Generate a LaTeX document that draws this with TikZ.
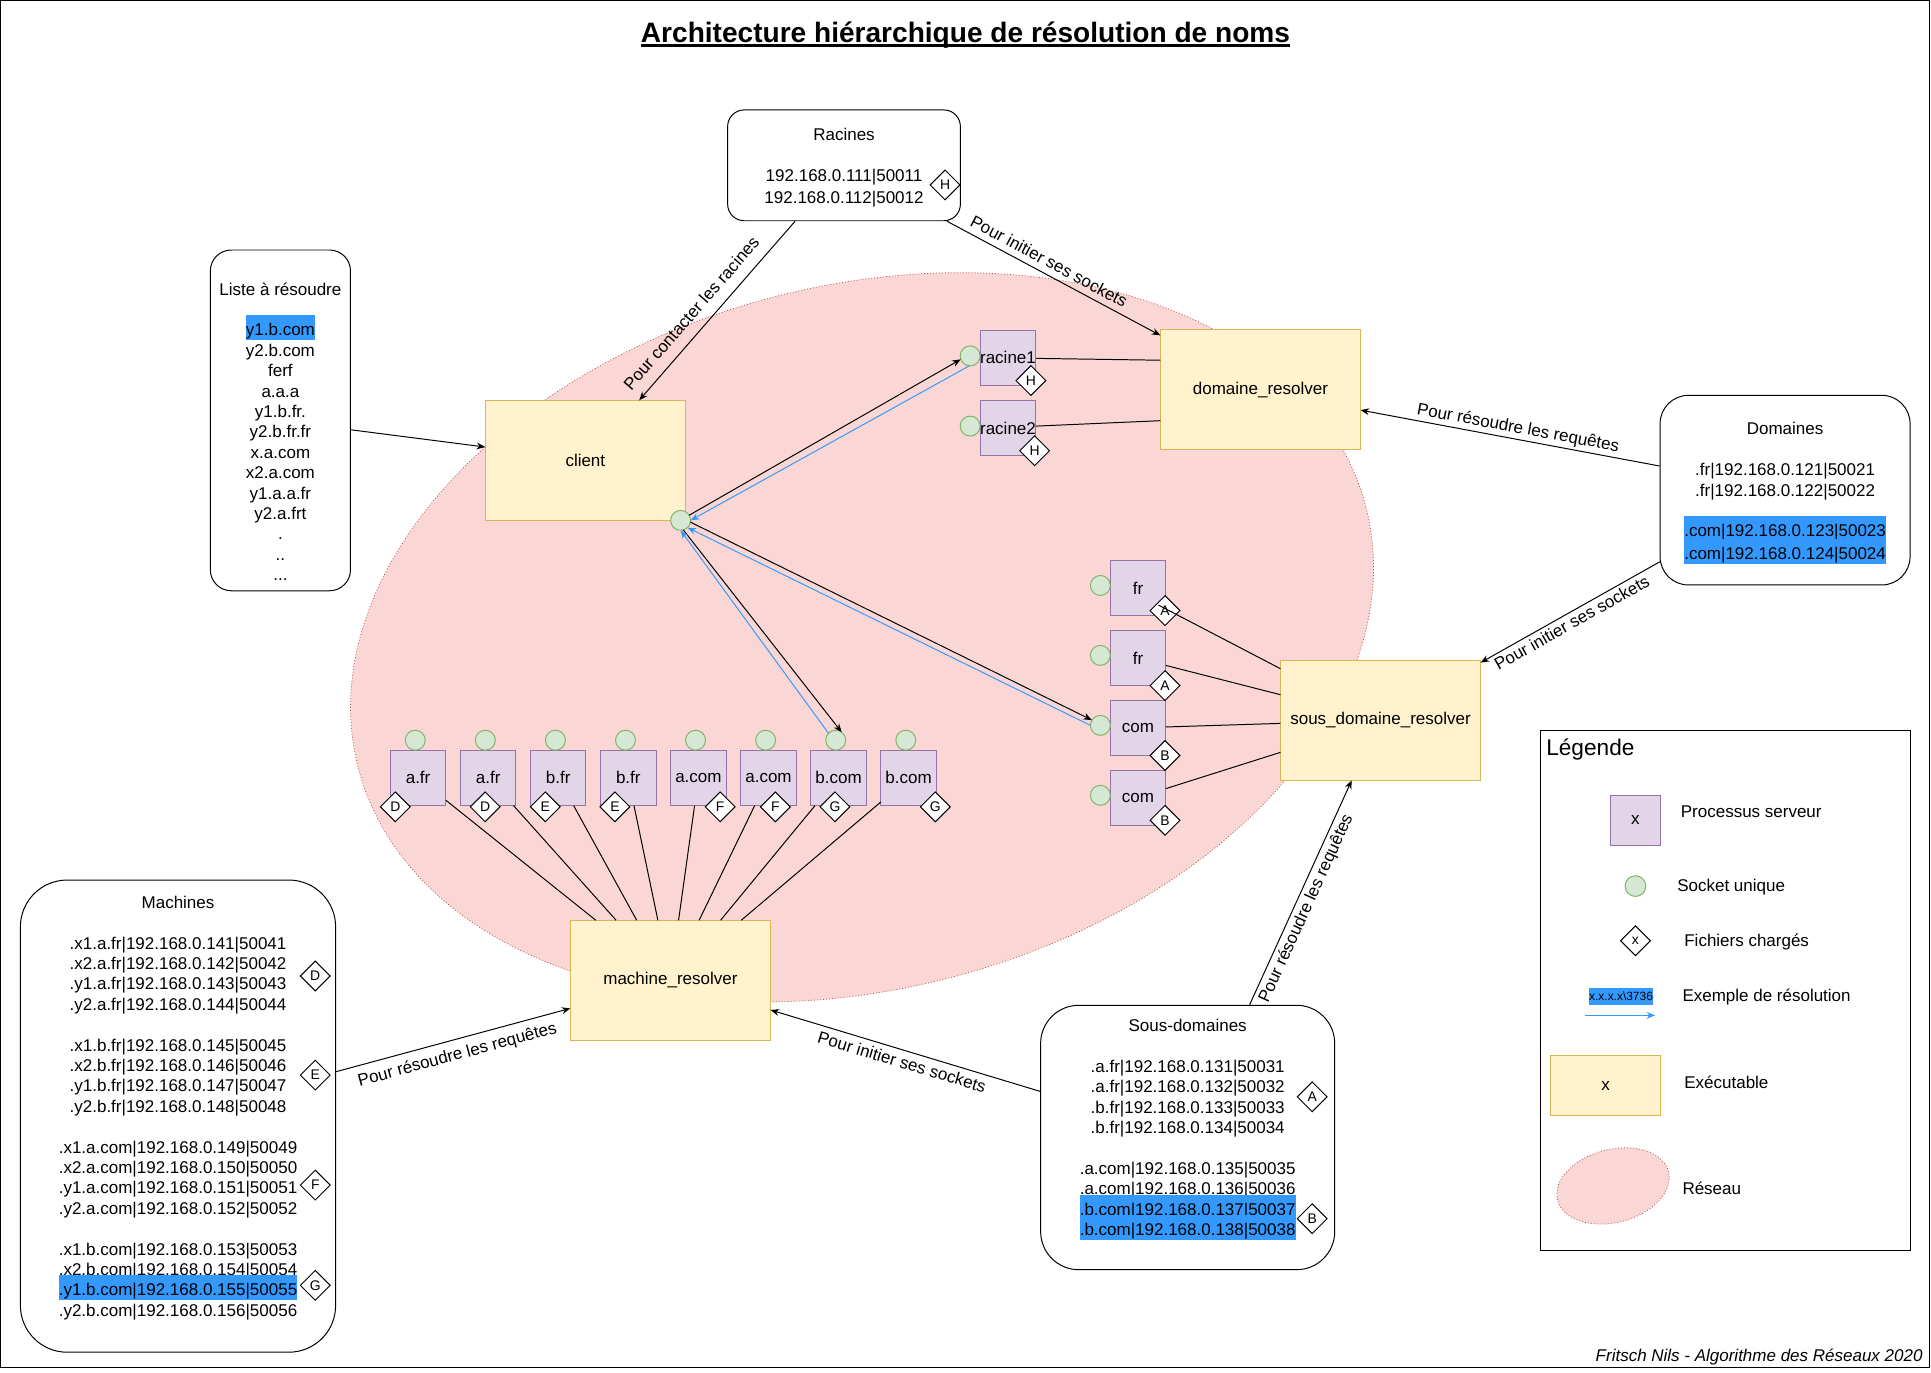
\documentclass[tikz,border=0pt]{standalone}
\usepackage{fontspec}
\setmainfont{Liberation Sans}
\usetikzlibrary{positioning, shapes.geometric, arrows.meta}

\definecolor{fondexec}{HTML}{FFF2CC}
\definecolor{bordexec}{HTML}{D6B656}
\definecolor{fondserveur}{HTML}{E1D5E7}
\definecolor{bordserveur}{HTML}{9673A6}
\definecolor{fondsocket}{HTML}{D5E8D4}
\definecolor{bordsocket}{HTML}{82B366}
\definecolor{fondreseau}{HTML}{FAD7D4}
\definecolor{bordreseau}{HTML}{B85450}
\definecolor{resolution}{HTML}{3399FF}

\newcommand{\ftexte}{\fontsize{13.8pt}{16.56pt}\selectfont}
\newcommand{\fpetit}{\fontsize{11.3pt}{13.5pt}\selectfont}
\newcommand{\fmini}{\fontsize{9.7pt}{11.6pt}\selectfont}
\newcommand{\flegende}{\fontsize{18.4pt}{22pt}\selectfont}
\newcommand{\ftitre}{\fontsize{22.8pt}{27pt}\selectfont\bfseries}
\newcommand{\ligne}{\rule[-2.36pt]{0pt}{16.56pt}}
\newsavebox{\boitesurl}
\newcommand{\surl}[1]{\sbox{\boitesurl}{#1}\makebox[0pt][l]{\smash{\textcolor{resolution}{\rule[-3.56pt]{\wd\boitesurl}{20.2pt}}}}\usebox{\boitesurl}}

\begin{document}
\begin{tikzpicture}[x=1pt, y=-1pt, every node/.style={align=center, font=\ftexte}, >={Stealth[length=7pt, width=5.5pt]}]
    % styles
    \tikzstyle{boite} = [rectangle, draw=black, fill=white, line width=0.8pt]
    \tikzstyle{exec} = [rectangle, draw=bordexec, fill=fondexec, line width=0.8pt, minimum width=162.5pt, minimum height=97.5pt, outer sep=0pt]
    \tikzstyle{serveur} = [rectangle, draw=bordserveur, fill=fondserveur, line width=0.8pt, minimum width=45pt, minimum height=45pt, inner sep=0pt, outer sep=0pt]
    \tikzstyle{socket} = [circle, draw=bordsocket, fill=fondsocket, line width=0.8pt, minimum size=16.2pt, inner sep=0pt, outer sep=0pt]
    \tikzstyle{fichier} = [diamond, draw=black, fill=white, line width=0.8pt, minimum width=24.5pt, minimum height=24.5pt, inner sep=0pt, font=\fpetit]
    \tikzstyle{reseau} = [ellipse, draw=bordreseau, fill=fondreseau, line width=0.6pt, dash pattern=on 0.8pt off 1.6pt, inner sep=0pt]
    \tikzstyle{arrow} = [line width=0.8pt, ->]
    \tikzstyle{lien} = [line width=0.8pt]
    \tikzstyle{resol} = [line width=0.8pt, ->, draw=resolution]
    \tikzstyle{etiquette} = [sloped, inner sep=0pt]

    \useasboundingbox (0,0) rectangle (1568,1114.1);
    \draw[line width=0.8pt] (0.8,0.8) rectangle (1566.8,1110.8);

    % titre
    \node[font=\ftitre, anchor=base, inner sep=0pt] (titre) at (784,34.7) {Architecture hiérarchique de résolution de noms};
    \draw[line width=1.9pt] ([yshift=-2.3pt]titre.base west) -- ([yshift=-2.3pt]titre.base east);

    % reseau
    \node[reseau, minimum width=845.2pt, minimum height=571pt, rotate=14.55] (reseau) at (700,517.5) {};

    % executables
    \node[exec] (client) at (475.3,373.8) {client};
    \node[exec] (domres) at (1023.5,316.5) {domaine\_resolver};
    \node[exec] (sdr) at (1121,584.9) {sous\_domaine\_resolver};
    \node[exec] (machres) at (544.4,796) {machine\_resolver};
    \node[socket] (sclient) at ([shift={(-3.9,0)}]client.south east) {};

    % fichiers
    \node[boite, minimum width=189pt, minimum height=90pt, rounded corners=13.5pt] (racines) at (685.35,134.25) {\ligne Racines\\[16.56pt]192.168.0.111|50011\\192.168.0.112|50012\ligne};
    \node[boite, minimum width=113.8pt, minimum height=276.7pt, rounded corners=17pt] (liste) at (227.7,341.35) {\ligne\\Liste à résoudre\\[16.56pt]
        \surl{y1.b.com}\\y2.b.com\\ferf\\a.a.a\\y1.b.fr.\\y2.b.fr.fr\\x.a.com\\x2.a.com\\y1.a.a.fr\\y2.a.frt\\.\\..\\...\ligne};
    \node[boite, minimum width=203pt, minimum height=154pt, rounded corners=23pt] (domaines) at (1449.5,398) {\ligne Domaines\\[16.56pt]
        .fr|192.168.0.121|50021\\
        .fr|192.168.0.122|50022\\[16.56pt]
        \surl{.com|192.168.0.123|50023}\\
        \surl{.com|192.168.0.124|50024}\ligne};
    \node[boite, minimum width=238.8pt, minimum height=214.7pt, rounded corners=31pt] (sousdom) at (964.4,923.65) {\ligne Sous-domaines\\[16.56pt]
        .a.fr|192.168.0.131|50031\\
        .a.fr|192.168.0.132|50032\\
        .b.fr|192.168.0.133|50033\\
        .b.fr|192.168.0.134|50034\\[16.56pt]
        .a.com|192.168.0.135|50035\\
        .a.com|192.168.0.136|50036\\
        \surl{.b.com|192.168.0.137|50037}\\
        \surl{.b.com|192.168.0.138|50038}\\\ligne};
    \node[boite, minimum width=256pt, minimum height=383.4pt, rounded corners=38pt] (machines) at (144.55,906.3) {\ligne Machines\\[16.56pt]
        .x1.a.fr|192.168.0.141|50041\\
        .x2.a.fr|192.168.0.142|50042\\
        .y1.a.fr|192.168.0.143|50043\\
        .y2.a.fr|192.168.0.144|50044\\[16.56pt]
        .x1.b.fr|192.168.0.145|50045\\
        .x2.b.fr|192.168.0.146|50046\\
        .y1.b.fr|192.168.0.147|50047\\
        .y2.b.fr|192.168.0.148|50048\\[16.56pt]
        .x1.a.com|192.168.0.149|50049\\
        .x2.a.com|192.168.0.150|50050\\
        .y1.a.com|192.168.0.151|50051\\
        .y2.a.com|192.168.0.152|50052\\[16.56pt]
        .x1.b.com|192.168.0.153|50053\\
        .x2.b.com|192.168.0.154|50054\\
        \surl{.y1.b.com|192.168.0.155|50055}\\
        .y2.b.com|192.168.0.156|50056\\\ligne};
    \node[fichier] (fracines) at (767.4,150.2) {H};
    \node[fichier] (fsdA) at (1065.5,890.6) {A};
    \node[fichier] (fsdB) at (1065.5,989.6) {B};
    \node[fichier] (fmD) at (256,792.5) {D};
    \node[fichier] (fmE) at (256,873) {E};
    \node[fichier] (fmF) at (256,962.3) {F};
    \node[fichier] (fmG) at (256,1043.7) {G};

    % serveurs racines
    \node[serveur] (racine1) at (818.5,290.5) {racine1};
    \node[serveur, below=12pt of racine1] (racine2) {racine2};
    \node[socket, left=0pt of racine1, yshift=1.5pt] (sr1) {};
    \node[socket, left=0pt of racine2, yshift=1.5pt] (sr2) {};
    \node[fichier] (fr1H) at ([shift={(-4,-4)}]racine1.south east) {H};
    \node[fichier] (fr2H) at ([shift={(-1,-4)}]racine2.south east) {H};
    \draw[lien] ([shift={(0,0.5)}]racine1.east) -- ([shift={(0,-24)}]domres.west);
    \draw[lien] ([shift={(0,-1.5)}]racine2.east) -- ([shift={(0,25.1)}]domres.west);

    % serveurs sous-domaines
    \node[serveur] (fr1) at (924.1,477.4) {fr};
    \node[serveur, below=11.8pt of fr1] (fr2) {fr};
    \node[serveur, below=11.8pt of fr2] (com1) {com};
    \node[serveur, below=11.8pt of com1] (com2) {com};
    \node[socket, left=0pt of fr1, yshift=2pt] (sfr1) {};
    \node[socket, left=0pt of fr2, yshift=2pt] (sfr2) {};
    \node[socket, left=0pt of com1, yshift=2pt] (scom1) {};
    \node[socket, left=0pt of com2, yshift=2pt] (scom2) {};
    \node[fichier] (ffr1) at ([shift={(-0.6,-4.1)}]fr1.south east) {A};
    \node[fichier] (ffr2) at ([shift={(-0.6,0)}]fr2.south east) {A};
    \node[fichier] (fcom1) at ([shift={(-0.6,0)}]com1.south east) {B};
    \node[fichier] (fcom2) at ([shift={(-0.6,-4.2)}]com2.south east) {B};
    \draw[lien] ([shift={(-6,-8.6)}]fr1.south east) -- ([shift={(0,-41.9)}]sdr.west);
    \draw[lien] ([shift={(0,6.1)}]fr2.east) -- ([shift={(0,-20.8)}]sdr.west);
    \draw[lien] ([shift={(0,-0.7)}]com1.east) -- ([shift={(0,2.5)}]sdr.west);
    \draw[lien] ([shift={(0,-7.4)}]com2.east) -- ([shift={(0,26)}]sdr.west);

    % serveurs machines
    \node[serveur] (afr1) at (339.5,631.65) {a.fr};
    \node[serveur, right=11.9pt of afr1] (afr2) {a.fr};
    \node[serveur, right=11.9pt of afr2] (bfr1) {b.fr};
    \node[serveur, right=11.9pt of bfr1] (bfr2) {b.fr};
    \node[serveur, right=11.9pt of bfr2] (acom1) {a.com};
    \node[serveur, right=11.9pt of acom1] (acom2) {a.com};
    \node[serveur, right=11.9pt of acom2] (bcom1) {b.com};
    \node[serveur, right=11.9pt of bcom1] (bcom2) {b.com};
    \node[socket, above=0pt of afr1, xshift=-2.3pt] (safr1) {};
    \node[socket, above=0pt of afr2, xshift=-2.3pt] (safr2) {};
    \node[socket, above=0pt of bfr1, xshift=-2.3pt] (sbfr1) {};
    \node[socket, above=0pt of bfr2, xshift=-2.3pt] (sbfr2) {};
    \node[socket, above=0pt of acom1, xshift=-2.3pt] (sacom1) {};
    \node[socket, above=0pt of acom2, xshift=-2.3pt] (sacom2) {};
    \node[socket, above=0pt of bcom1, xshift=-2.3pt] (sbcom1) {};
    \node[socket, above=0pt of bcom2, xshift=-2.3pt] (sbcom2) {};
    \draw[lien] ([shift={(0,-4.4)}]afr1.south east) -- ([shift={(-60.6,0)}]machres.north);
    \draw[lien] ([shift={(20.6,0)}]afr2.south) -- ([shift={(-44.1,0)}]machres.north);
    \draw[lien] ([shift={(12.5,0)}]bfr1.south) -- ([shift={(-27.4,0)}]machres.north);
    \draw[lien] ([shift={(4.6,0)}]bfr2.south) -- ([shift={(-10.2,0)}]machres.north);
    \draw[lien] ([shift={(-3.1,0)}]acom1.south) -- ([shift={(6.6,0)}]machres.north);
    \draw[lien] ([shift={(-11.2,0)}]acom2.south) -- ([shift={(23.3,0)}]machres.north);
    \draw[lien] ([shift={(-19.1,0)}]bcom1.south) -- ([shift={(40.7,0)}]machres.north);
    \draw[lien] ([shift={(0,-3)}]bcom2.south west) -- ([shift={(57.5,0)}]machres.north);
    \node[fichier] (fafr1) at ([shift={(4,1)}]afr1.south west) {D};
    \node[fichier] (fafr2) at ([shift={(-2.4,1)}]afr2.south) {D};
    \node[fichier] (fbfr1) at ([shift={(12,1)}]bfr1.south west) {E};
    \node[fichier] (fbfr2) at ([shift={(11.6,1)}]bfr2.south west) {E};
    \node[fichier] (facom1) at ([shift={(-4.8,1)}]acom1.south east) {F};
    \node[fichier] (facom2) at ([shift={(5.6,1)}]acom2.south) {F};
    \node[fichier] (fbcom1) at ([shift={(-2.9,1)}]bcom1.south) {G};
    \node[fichier] (fbcom2) at ([shift={(-0.8,1)}]bcom2.south east) {G};

    % echanges du client
    \draw[arrow] (sclient.31) -- (sr1.200);
    \draw[resol] (sr1.265) -- (sclient.0);
    \draw[arrow] (sclient.-10) -- (scom1.148);
    \draw[resol] (scom1.180) -- (sclient.-46);
    \draw[arrow] (sclient.-74) -- (sbcom1.53);
    \draw[resol] (sbcom1.136) -- (sclient.-90);

    % fleches
    \draw[arrow] ([shift={(0,7.65)}]liste.east) -- ([shift={(0,-10.8)}]client.west);
    \draw[arrow] ([shift={(-39.75,0)}]racines.south) -- node[etiquette, pos=0.58, above=9pt] {Pour contacter les racines} ([shift={(43.7,0)}]client.north);
    \draw[arrow] ([shift={(83.65,0)}]racines.south) -- node[etiquette, pos=0.45, above=5pt] {Pour initier ses sockets} ([shift={(0,4.6)}]domres.north west);
    \draw[arrow] ([shift={(0,-19.6)}]domaines.west) -- node[etiquette, pos=0.48, above=1.8pt] {Pour résoudre les requêtes} ([shift={(0,16.5)}]domres.east);
    \draw[arrow] ([shift={(0.5,58)}]domaines.west) -- node[etiquette, pos=0.52, below=2.6pt] {Pour initier ses sockets} ([shift={(0,1.9)}]sdr.north east);
    \draw[arrow] ([shift={(50.3,0)}]sousdom.north) -- node[etiquette, pos=0.45, below=2.8pt] {Pour résoudre les requêtes} ([shift={(-23.4,0)}]sdr.south);
    \draw[arrow] ([shift={(0,-37.45)}]sousdom.west) -- node[etiquette, pos=0.5, below=4pt] {Pour initier ses sockets} ([shift={(0,24.1)}]machres.east);
    \draw[arrow] ([shift={(0,-36.1)}]machines.east) -- node[etiquette, pos=0.5, below=6pt] {Pour résoudre les requêtes} ([shift={(0,22.8)}]machres.west);

    % legende
    \node[draw, line width=0.8pt, minimum width=300.7pt, minimum height=422.8pt, inner sep=0pt] (legende) at (1401.15,804.4) {};
    \node[anchor=west, inner sep=0pt, font=\flegende] (tlegende) at (1255.4,608.3) {Légende};
    \node[serveur, minimum width=41pt, minimum height=40.4pt] (lserveur) at (1328,666.2) {x};
    \node[anchor=west, inner sep=0pt] (tserveur) at (1364.7,659.4) {Processus serveur};
    \node[socket, minimum size=16.8pt] (lsocket) at (1328,719.5) {};
    \node[anchor=west, inner sep=0pt] (tsocket) at (1361.8,720.4) {Socket unique};
    \node[fichier] (lfichier) at (1328,763.9) {x};
    \node[anchor=west, inner sep=0pt] (tfichier) at (1367.5,765) {Fichiers chargés};
    \node[fill=resolution, inner xsep=0pt, inner ysep=0pt, minimum height=14.5pt, font=\fmini] (lexemple) at (1316.3,809.2) {x.x.x.x\textbackslash 3736};
    \coordinate (lflechea) at (1287,824.5);
    \coordinate (lflecheb) at (1344,824.5);
    \draw[resol] (lflechea) -- (lflecheb);
    \node[anchor=west, inner sep=0pt] (texemple) at (1366,809.6) {Exemple de résolution};
    \node[exec, minimum width=89.6pt, minimum height=48.4pt] (lexec) at (1303.7,881.5) {x};
    \node[anchor=west, inner sep=0pt] (texec) at (1367.5,878.8) {Exécutable};
    \node[reseau, minimum width=93pt, minimum height=59.4pt, rotate=14.3] (lreseau) at (1309.8,963) {};
    \node[anchor=west, inner sep=0pt] (treseau) at (1366,964.7) {Réseau};

    % signature
    \node[font=\ftexte\itshape, anchor=east, inner sep=0pt] (signature) at (1561.3,1101.9) {Fritsch Nils - Algorithme des Réseaux 2020};
\end{tikzpicture}
\end{document}
